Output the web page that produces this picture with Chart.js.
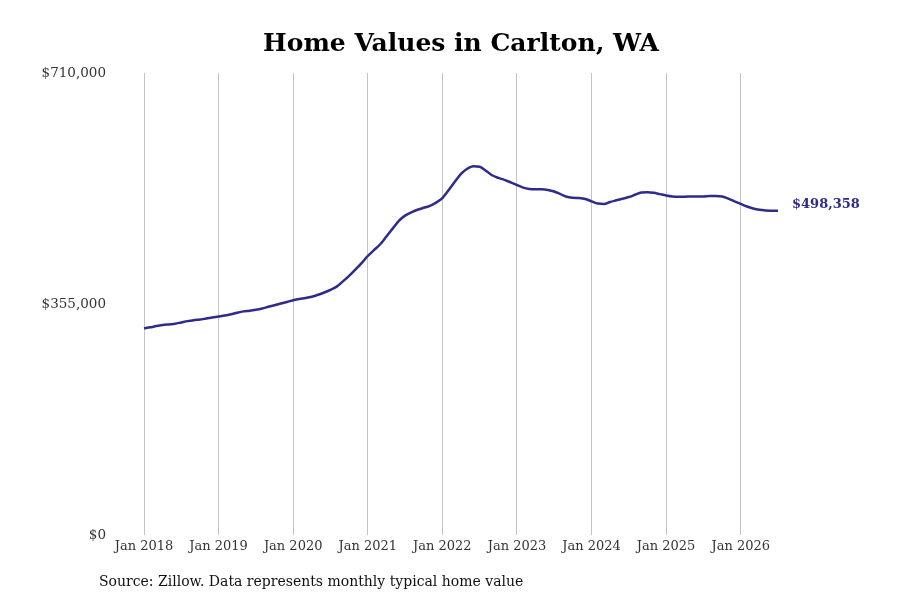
<!DOCTYPE html>
<html>
<head>
<meta charset="utf-8">
<title>Home Values in Carlton, WA</title>
<script src="https://cdn.jsdelivr.net/npm/chart.js@4"></script>
<style>
  html, body { margin: 0; padding: 0; background: #fff; }
  #wrap { width: 900px; height: 600px; position: relative; }
</style>
</head>
<body>
<div id="wrap"><canvas id="chart"></canvas></div>
<script>
// Valores mensais (típicos) por ano, em dólares
const v2018 = [318000, 319500, 321500, 323000, 324000, 325000, 327000, 329000, 330500, 331500, 333000, 334500];
const v2019 = [336000, 337500, 339500, 342000, 344000, 345000, 346500, 348500, 351000, 353500, 356000, 358500];
const v2020 = [361000, 363000, 364500, 366500, 369500, 373000, 377000, 382000, 390000, 398500, 408000, 418000];
const v2021 = [429000, 438000, 447000, 459000, 471000, 483000, 491000, 496000, 500000, 503000, 506000, 511000];
const v2022 = [518000, 530000, 543000, 555000, 563000, 567000, 566000, 560000, 553000, 549000, 546000, 542000];
const v2023 = [538000, 534000, 532000, 531500, 531500, 530500, 528000, 524000, 520000, 518500, 518000, 516500];
const v2024 = [513000, 509500, 509000, 512000, 514500, 517000, 519500, 523000, 526500, 527000, 526000, 524000];
const v2025 = [522000, 520500, 520000, 520000, 520500, 520500, 520500, 521000, 521000, 520500, 517000, 513000];
const v2026 = [509000, 505000, 502000, 500000, 499000, 498600, 498358];

const years = [2018, 2019, 2020, 2021, 2022, 2023, 2024, 2025, 2026];
const monthNames = ['Jan', 'Feb', 'Mar', 'Apr', 'May', 'Jun', 'Jul', 'Aug', 'Sep', 'Oct', 'Nov', 'Dec'];
const yTicks = [0, 355000, 710000];

const valores = [].concat(v2018, v2019, v2020, v2021, v2022, v2023, v2024, v2025, v2026);
const rotulos = valores.map((_, i) => monthNames[i % 12] + ' ' + years[Math.floor(i / 12)]);

const corLinha = '#2e2b8a';
const fonteSerif = "'DejaVu Serif', serif";

const fmt = v => '$' + Math.round(v).toLocaleString('en-US');

// Texto final da linha e nota de fonte
const extras = {
  id: 'extras',
  afterDatasetsDraw(chart) {
    const { ctx } = chart;
    const meta = chart.getDatasetMeta(0);
    const ultimo = meta.data[meta.data.length - 1];
    ctx.save();
    ctx.font = "bold 13px " + fonteSerif;
    ctx.fillStyle = corLinha;
    ctx.textAlign = 'left';
    ctx.textBaseline = 'alphabetic';
    ctx.fillText(fmt(valores[valores.length - 1]), ultimo.x + 14, ultimo.y - 3);

    ctx.font = "14px " + fonteSerif;
    ctx.fillStyle = '#111';
    ctx.textBaseline = 'middle';
    ctx.fillText('Source: Zillow. Data represents monthly typical home value', 99, 582);
    ctx.restore();
  }
};

const ctx = document.getElementById('chart').getContext('2d');
new Chart(ctx, {
  type: 'line',
  data: {
    labels: rotulos,
    datasets: [{
      data: valores,
      borderColor: corLinha,
      borderWidth: 2.5,
      pointRadius: 0,
      tension: 0.4,
      cubicInterpolationMode: 'monotone',
      fill: false
    }]
  },
  options: {
    responsive: true,
    maintainAspectRatio: false,
    animation: false,
    layout: { padding: { left: 22, right: 0, top: 0, bottom: 43 } },
    scales: {
      x: {
        grid: { color: '#c4c4c4', lineWidth: 1, drawTicks: false },
        border: { display: false },
        ticks: {
          autoSkip: false,
          maxRotation: 0,
          padding: 3,
          color: '#333',
          font: { family: fonteSerif, size: 13 },
          callback: function (val, i) {
            return i % 12 === 0 ? monthNames[0] + ' ' + years[i / 12] : null;
          }
        }
      },
      y: {
        min: 0,
        max: 710000,
        afterBuildTicks: scale => { scale.ticks = yTicks.map(v => ({ value: v })); },
        afterFit: scale => { scale.width = 122; },
        grid: { display: false },
        border: { display: false },
        ticks: {
          padding: 30,
          color: '#333',
          font: { family: fonteSerif, size: 13.5 },
          callback: v => fmt(v)
        }
      },
      // eixo vazio à direita, só para reservar espaço ao rótulo final
      yDir: {
        position: 'right',
        min: 0,
        max: 710000,
        afterFit: scale => { scale.width = 122; },
        grid: { display: false },
        border: { display: false },
        ticks: { display: false }
      }
    },
    plugins: {
      legend: { display: false },
      tooltip: { enabled: false },
      title: {
        display: true,
        text: 'Home Values in Carlton, WA',
        color: '#000',
        font: { family: fonteSerif, size: 25, weight: 'bold' },
        padding: { top: 29, bottom: 14 }
      }
    }
  },
  plugins: [extras]
});
</script>
</body>
</html>
